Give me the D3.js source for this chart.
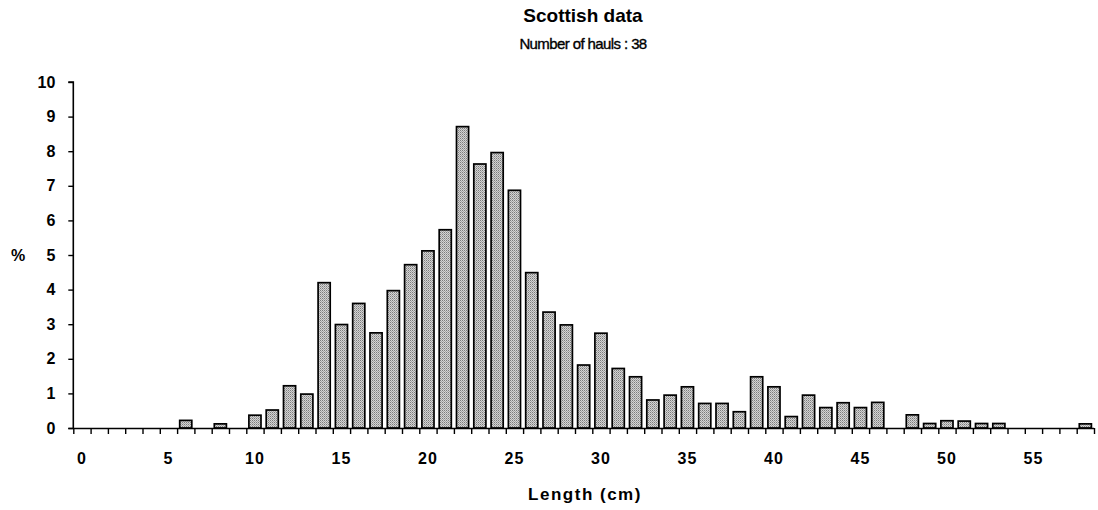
<!DOCTYPE html>
<html>
<head>
<meta charset="utf-8">
<script src="https://cdn.jsdelivr.net/npm/d3@7"></script>
<style>
  html, body { margin: 0; padding: 0; background: #fff; }
  svg { display: block; font-family: "Liberation Sans", Arial, Helvetica, sans-serif; }
</style>
</head>
<body>
<svg id="chart" width="1098" height="510"></svg>
<script>
// Length classes (cm) and percentage of fish in each class
const lengths = d3.range(0, 59);
const percents = [
  0, 0, 0, 0, 0, 0, 0.22, 0, 0.12, 0,
  0.37, 0.52, 1.22, 0.98, 4.2, 2.99, 3.6, 2.75, 3.97, 4.72,
  5.12, 5.73, 8.71, 7.63, 7.96, 6.87, 4.49, 3.35, 2.98, 1.82,
  2.74, 1.72, 1.48, 0.81, 0.95, 1.19, 0.71, 0.71, 0.47, 1.48,
  1.19, 0.33, 0.95, 0.59, 0.73, 0.59, 0.74, 0, 0.38, 0.13,
  0.21, 0.2, 0.13, 0.13, 0, 0, 0, 0, 0.12
];
const yTicks = d3.range(0, 11);
const xLabels = [0, 5, 10, 15, 20, 25, 30, 35, 40, 45, 50, 55];

const titleText = "Scottish data";
const subtitleText = "Number of hauls : 38";
const xTitle = "Length (cm)";
const yTitle = "%";

const svg = d3.select("#chart");
const plotLeft = 73.3, plotRight = 1094, plotTop = 82, plotBottom = 428;

// Shaded fill used inside the bars
const defs = svg.append("defs");
const pat = defs.append("pattern")
  .attr("id", "shade").attr("patternUnits", "userSpaceOnUse")
  .attr("width", 2).attr("height", 2);
pat.append("rect").attr("width", 2).attr("height", 2).attr("fill", "#d4d4d4");
pat.append("rect").attr("x", 0).attr("y", 0).attr("width", 1).attr("height", 1).attr("fill", "#7c7c7c");
pat.append("rect").attr("x", 1).attr("y", 1).attr("width", 1).attr("height", 1).attr("fill", "#a4a4a4");

const x = d3.scaleBand().domain(lengths).range([plotLeft, plotRight])
  .paddingInner(0.3).paddingOuter(0.15);
const xEdge = d3.scaleLinear().domain([0, lengths.length]).range([plotLeft, plotRight]);
const y = d3.scaleLinear().domain([0, 10]).range([plotBottom, plotTop]);

// Bars
svg.append("g").selectAll("rect")
  .data(lengths.filter(d => percents[d] > 0))
  .join("rect")
  .attr("x", d => x(d))
  .attr("y", d => y(percents[d]))
  .attr("width", x.bandwidth())
  .attr("height", d => y(0) - y(percents[d]))
  .attr("fill", "url(#shade)")
  .attr("stroke", "#000")
  .attr("stroke-width", 1.7);

// X axis: ticks on class boundaries
const xAxis = svg.append("g")
  .attr("transform", `translate(0,${plotBottom})`)
  .call(d3.axisBottom(xEdge).tickValues(d3.range(0, lengths.length + 1))
    .tickSize(6).tickFormat(""));
xAxis.select(".domain").attr("stroke-width", 1.6).attr("d", `M${plotLeft - 5},0.5H${plotRight}`);
xAxis.selectAll(".tick line").attr("stroke-width", 1.4);

// X labels centred in their class
svg.append("g").selectAll("text")
  .data(xLabels)
  .join("text")
  .attr("x", d => x(d) + x.bandwidth() / 2)
  .attr("y", 464)
  .attr("text-anchor", "middle")
  .attr("font-size", 16)
  .attr("font-weight", "bold")
  .attr("letter-spacing", 1)
  .text(d => d);

// Y axis
const yAxis = svg.append("g")
  .attr("transform", `translate(${plotLeft},0)`)
  .call(d3.axisLeft(y).tickValues(yTicks).tickSize(5).tickPadding(13));
yAxis.select(".domain").attr("stroke-width", 1.6).attr("d", `M-5,${plotTop}H0V${plotBottom}`);
yAxis.selectAll(".tick line").attr("stroke-width", 1.4);
yAxis.selectAll(".tick text")
  .attr("font-size", 16)
  .attr("font-weight", "bold")
  .attr("font-family", "Liberation Sans, Arial, sans-serif")
  .attr("fill", "#000");

// Titles
svg.append("text").attr("x", 583).attr("y", 22)
  .attr("text-anchor", "middle").attr("font-size", 19).attr("font-weight", "bold")
  .text(titleText);
svg.append("text").attr("x", 583).attr("y", 49)
  .attr("text-anchor", "middle").attr("font-size", 15)
  .attr("letter-spacing", -0.6)
  .attr("stroke", "#000").attr("stroke-width", 0.35)
  .text(subtitleText);
svg.append("text").attr("x", 585).attr("y", 500)
  .attr("text-anchor", "middle").attr("font-size", 17).attr("font-weight", "bold")
  .attr("letter-spacing", 1.5)
  .text(xTitle);
svg.append("text").attr("x", 18).attr("y", 261)
  .attr("text-anchor", "middle").attr("font-size", 16).attr("font-weight", "bold")
  .text(yTitle);
</script>
</body>
</html>
